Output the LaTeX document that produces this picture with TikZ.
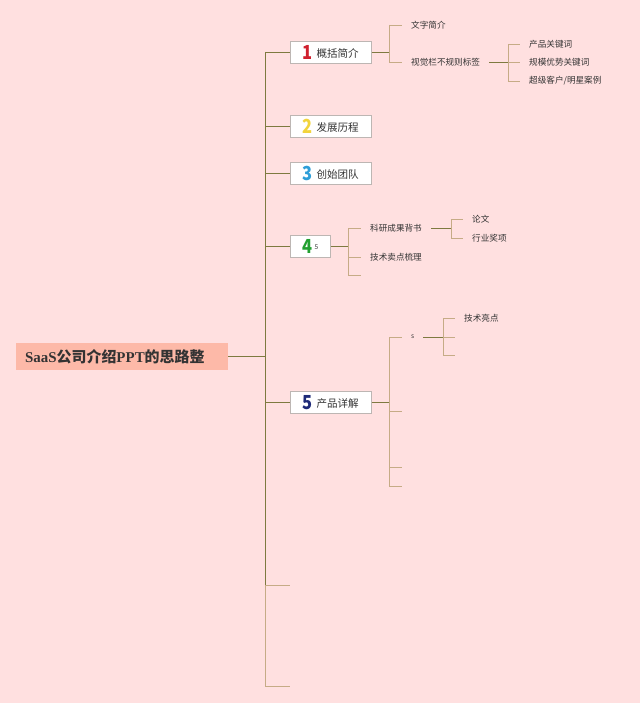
\documentclass[tikz,border=0pt]{standalone}
\usepackage{fontspec}
\usepackage{graphicx}
\setmainfont{Liberation Serif}
\newfontfamily\cjk{Noto Sans CJK SC}
\usetikzlibrary{positioning, calc}
\definecolor{bgpink}{HTML}{FFE0E0}
\definecolor{rootfill}{HTML}{FDB9A8}
\definecolor{linkol}{HTML}{7E7A40}
\definecolor{twigtan}{HTML}{C6AB86}
\definecolor{boxgray}{HTML}{BDB6B3}
\definecolor{txtdark}{HTML}{333333}
\definecolor{numred}{HTML}{D0202E}
\definecolor{numyellow}{HTML}{F2D43C}
\definecolor{numblue}{HTML}{2E9ED8}
\definecolor{numgreen}{HTML}{22A030}
\definecolor{numnavy}{HTML}{1E2A78}
\newcommand{\zh}[1]{{\cjk #1}}
\newcommand{\topnum}[2]{\raisebox{-0.06cm}{\scalebox{0.85}[1]{\color{#1}\fontsize{22pt}{22pt}\selectfont\bfseries #2}}\hspace{0.15cm}}

\begin{document}
\begin{tikzpicture}[
  x=0.04cm, y=-0.04cm,
  every node/.style={text=txtdark},
  root/.style={fill=rootfill, anchor=west, minimum height=1.08cm, text width=7.76cm,
    inner xsep=0.36cm, inner ysep=0pt, font=\bfseries\fontsize{17pt}{19pt}\selectfont},
  topic/.style={draw=boxgray, fill=white, line width=0.6pt, anchor=west,
    minimum height=0.88cm, minimum width=3.24cm, inner sep=0pt,
    font=\cjk\fontsize{12pt}{14pt}\selectfont},
  leaf/.style={anchor=west, inner xsep=0.36cm, inner ysep=1pt,
    font=\cjk\fontsize{9.8pt}{11pt}\selectfont},
  link/.style={linkol, line width=0.9pt},
  twig/.style={twigtan, line width=1pt},
]

% Background
\fill[bgpink] (0,0) rectangle (640,703);

% Root
\node[root] (root) at (16,356.5) {SaaS\zh{公司介绍}PPT\zh{的思路整}};

% Main topics
\node[topic] (t1) at (290,52) {\topnum{numred}{1}概括简介};
\node[topic] (t2) at (290,126) {\topnum{numyellow}{2}发展历程};
\node[topic] (t3) at (290,173) {\topnum{numblue}{3}创始团队};
\node[topic, minimum width=1.6cm] (t4) at (290,246.5)
  {\topnum{numgreen}{4}\hspace{-0.05cm}\raisebox{0.12cm}{\fontsize{7.5pt}{8pt}\selectfont 5}};
\node[topic] (t5) at (290,402.5) {\topnum{numnavy}{5}产品详解};
\coordinate (t6) at (290,585.5);
\coordinate (t7) at (290,686.5);

% Spine
\coordinate (s0) at (265,356.5);
\draw[link] (root) -- (s0);
\draw[link] (s0 |- t1) -- (s0 |- t6);
\draw[twig] (s0 |- t6) -- (s0 |- t7);
\draw[link] (s0 |- t1) -- (t1);
\draw[link] (s0 |- t2) -- (t2);
\draw[link] (s0 |- t3) -- (t3);
\draw[link] (s0 |- t4) -- (t4);
\draw[link] (s0 |- t5) -- (t5);
\draw[twig] (s0 |- t6) -- (t6);
\draw[twig] (s0 |- t7) -- (t7);

% Topic 1
\node[leaf] (a1) at (402,25) {文字简介};
\node[leaf] (a2) at (402,62) {视觉栏不规则标签};
\coordinate (j1) at (389,52);
\draw[link] (t1) -- (j1);
\draw[twig] (j1 |- a1) -- (j1 |- a2);
\draw[twig] (j1 |- a1) -- (a1);
\draw[twig] (j1 |- a2) -- (a2);

\node[leaf] (a21) at (520,44) {产品关键词};
\node[leaf] (a22) at (520,62) {规模优势关键词};
\node[leaf] (a23) at (520,81) {超级客户/明星案例};
\coordinate (j2) at (508,62);
\draw[link] (a2) -- (j2);
\draw[twig] (j2 |- a21) -- (j2 |- a23);
\draw[twig] (j2 |- a21) -- (a21);
\draw[twig] (j2 |- a22) -- (a22);
\draw[twig] (j2 |- a23) -- (a23);

% Topic 4
\node[leaf] (d1) at (361,228) {科研成果背书};
\node[leaf] (d2) at (361,257) {技术卖点梳理};
\coordinate (d3) at (361,275);
\coordinate (j4) at (348,246.5);
\draw[link] (t4) -- (j4);
\draw[twig] (j4 |- d1) -- (j4 |- d3);
\draw[twig] (j4 |- d1) -- (d1);
\draw[twig] (j4 |- d2) -- (d2);
\draw[twig] (j4 |- d3) -- (d3);

\node[leaf] (d11) at (463,219) {论文};
\node[leaf] (d12) at (463,238) {行业奖项};
\coordinate (j41) at (451,228);
\draw[link] (d1) -- (j41);
\draw[twig] (j41 |- d11) -- (j41 |- d12);
\draw[twig] (j41 |- d11) -- (d11);
\draw[twig] (j41 |- d12) -- (d12);

% Topic 5
\node[leaf, font=\cjk\fontsize{7.5pt}{8pt}\selectfont] (e1) at (402,337) {s};
\coordinate (e2) at (402,411.5);
\coordinate (e3) at (402,467);
\coordinate (e4) at (402,486);
\coordinate (j5) at (389,402.5);
\draw[link] (t5) -- (j5);
\draw[twig] (j5 |- e1) -- (j5 |- e4);
\draw[twig] (j5 |- e1) -- (e1);
\draw[twig] (j5 |- e2) -- (e2);
\draw[twig] (j5 |- e3) -- (e3);
\draw[twig] (j5 |- e4) -- (e4);

\node[leaf] (e11) at (455,318.5) {技术亮点};
\coordinate (e12) at (455,337);
\coordinate (e13) at (455,355.5);
\coordinate (j51) at (443,337);
\draw[link] (e1) -- (j51);
\draw[twig] (j51 |- e11) -- (j51 |- e13);
\draw[twig] (j51 |- e11) -- (e11);
\draw[twig] (j51) -- (e12);
\draw[twig] (j51 |- e13) -- (e13);

\end{tikzpicture}
\end{document}
